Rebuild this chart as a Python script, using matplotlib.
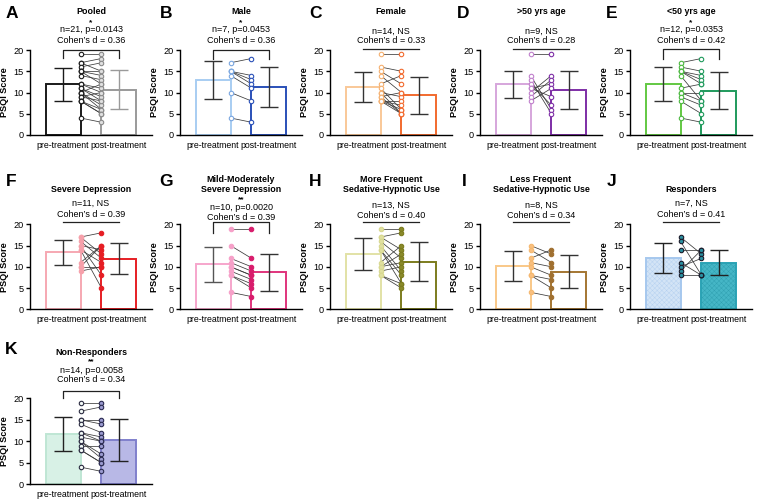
import matplotlib
matplotlib.use('Agg')
import matplotlib.pyplot as plt
import numpy as np

plt.rcParams['font.family'] = ['Liberation Sans', 'DejaVu Sans']
plt.rcParams['hatch.linewidth'] = 0.3

# ---------------- data (PSQI scores, paired pre/post) ----------------
groups = ['pre-treatment', 'post-treatment']
yticks = [0, 5, 10, 15, 20]

pooled_pre = [19, 17, 17, 16, 15, 15, 15, 14, 12, 12, 11, 11, 10, 10, 10, 9, 9, 8, 8, 8, 4]
pooled_post = [19, 18, 15, 17, 14, 15, 12, 13, 10, 11, 8, 9, 12, 7, 6, 10, 8, 6, 5, 5, 3]

male_pre = [17, 15, 15, 15, 14, 10, 4]
male_post = [18, 14, 13, 12, 11, 8, 3]

female_pre = [19, 16, 15, 14, 12, 11, 10, 10, 9, 9, 8, 8, 8, 8]
female_post = [19, 15, 12, 10, 14, 6, 9, 5, 10, 5, 8, 7, 6, 5]

old_pre = [19, 14, 13, 12, 11, 11, 10, 9, 8]
old_post = [19, 6, 5, 7, 9, 12, 14, 13, 11]

young_pre = [17, 16, 15, 15, 15, 14, 11, 10, 10, 9, 8, 4]
young_post = [18, 15, 14, 13, 12, 8, 12, 10, 8, 7, 5, 3]

severe_pre = [17, 17, 16, 15, 15, 14, 14, 11, 10, 10, 9]
severe_post = [18, 13, 12, 8, 14, 5, 11, 15, 10, 15, 10]

mild_pre = [19, 15, 12, 11, 10, 10, 9, 8, 8, 4]
mild_post = [19, 12, 10, 9, 8, 8, 7, 6, 5, 3]

morefreq_pre = [19, 17, 17, 16, 15, 14, 14, 11, 10, 10, 9, 8, 8]
morefreq_post = [19, 18, 14, 12, 9, 6, 8, 15, 13, 11, 10, 6, 5]

lessfreq_pre = [15, 14, 12, 11, 10, 8, 8, 4]
lessfreq_post = [13, 11, 14, 10, 8, 7, 5, 3]

resp_pre = [17, 16, 14, 11, 10, 9, 8]
resp_post = [13, 8, 14, 8, 12, 14, 8]

nonresp_pre = [19, 17, 15, 15, 14, 12, 12, 11, 10, 10, 9, 8, 8, 4]
nonresp_post = [19, 18, 15, 14, 12, 11, 10, 10, 7, 6, 9, 5, 5, 3]

titles = [['Pooled'], ['Male'], ['Female'], ['>50 yrs age'], ['<50 yrs age'],
          ['Severe Depression'], ['Mild-Moderately', 'Severe Depression'],
          ['More Frequent', 'Sedative-Hypnotic Use'], ['Less Frequent', 'Sedative-Hypnotic Use'],
          ['Responders'], ['Non-Responders']]
letters = ['A', 'B', 'C', 'D', 'E', 'F', 'G', 'H', 'I', 'J', 'K']
stat_texts = ['n=21, p=0.0143', 'n=7, p=0.0453', 'n=14, NS', 'n=9, NS', 'n=12, p=0.0353',
              'n=11, NS', 'n=10, p=0.0020', 'n=13, NS', 'n=8, NS', 'n=7, NS', 'n=14, p=0.0058']
stars = ['*', '*', '', '', '*', '', '**', '', '', '', '**']
cohens = ['0.36', '0.36', '0.33', '0.28', '0.42', '0.39', '0.39', '0.40', '0.34', '0.41', '0.34']

data = [(pooled_pre, pooled_post), (male_pre, male_post), (female_pre, female_post),
        (old_pre, old_post), (young_pre, young_post), (severe_pre, severe_post),
        (mild_pre, mild_post), (morefreq_pre, morefreq_post), (lessfreq_pre, lessfreq_post),
        (resp_pre, resp_post), (nonresp_pre, nonresp_post)]

# ---------------- styles ----------------
styles = [
    dict(pe='#1a1a1a', qe='#9a9a9a', pf='white', qf='white', pm='white', qm='#e0e0e0', pme='#1a1a1a', qme='#8a8a8a', ep='#1a1a1a', eq='#9a9a9a'),
    dict(pe='#a8cdf2', qe='#2a50b8', pf='white', qf='white', pm='white', qm='white', pme='#7aa6e0', qme='#2a50b8', ep='#333333', eq='#333333'),
    dict(pe='#f9c898', qe='#f26a2e', pf='white', qf='white', pm='white', qm='white', pme='#f5b070', qme='#f26a2e', ep='#333333', eq='#333333'),
    dict(pe='#d6a6dc', qe='#7e2ea6', pf='white', qf='white', pm='white', qm='white', pme='#c080cc', qme='#7e2ea6', ep='#333333', eq='#333333'),
    dict(pe='#62c842', qe='#1f9a5c', pf='white', qf='white', pm='white', qm='white', pme='#4cb840', qme='#1f9a5c', ep='#333333', eq='#333333'),
    dict(pe='#f6a8b2', qe='#e61e24', pf='white', qf='white', pm='#f6a0aa', qm='#e61e24', pme='#f6a0aa', qme='#e61e24', ep='#333333', eq='#333333'),
    dict(pe='#f6a6cc', qe='#e0347c', pf='white', qf='white', pm='#f6a0c8', qm='#d81c6c', pme='#f6a0c8', qme='#d81c6c', ep='#555555', eq='#333333'),
    dict(pe='#e2e2a6', qe='#7c7c1e', pf='white', qf='white', pm='#e0e0a0', qm='#8a8a2a', pme='#d8d890', qme='#7c7c1e', ep='#333333', eq='#333333'),
    dict(pe='#f9c888', qe='#a47632', pf='white', qf='white', pm='#f9c080', qm='#a07030', pme='#f5b870', qme='#a07030', ep='#333333', eq='#333333'),
    dict(pe='#a6c8ee', qe='#2aa2b4', pf='#d3e4f6', qf='#45b6c6', pm='#2a8fa0', qm='#2a8fa0', pme='#1a1a2a', qme='#1a1a2a', ep='#222222', eq='#222222',
         hp='#b4d0f0', hq='#2f9fb0'),
    dict(pe='#bfe6d4', qe='#8080cc', pf='#d8f1e6', qf='#b8b8e6', pm='#f4fbf8', qm='#9a9ad0', pme='#2a2a40', qme='#2a2a50', ep='#222222', eq='#222222'),
]

# layout (pixels)
W, H = 763, 500
fig = plt.figure(figsize=(W / 100, H / 100), dpi=100)
row_top = [50, 224.3, 398.3]
row_h = [85, 85, 86]
ax_w = 122
col_left = [30, 180, 330, 480, 630]
letter_pos = [(12, 13), (166, 13), (315, 13), (463, 13), (612, 13),
              (11, 181), (166, 181), (315, 181), (464, 181), (612, 182), (11, 350)]

# text offsets (px above y=20): title lines, star, n-line, cohen, bracket y, bracket drop
offs = {
    'A': dict(t=[38.5], s=27.5, n=20, c=9.5, b=0.5, drop=8.5),
    'B': dict(t=[38.5], s=27.5, n=20, c=9.5, b=0.5, drop=9),
    'C': dict(t=[38.5], s=None, n=18.5, c=9.5, b=1.2, drop=0),
    'D': dict(t=[38.5], s=None, n=18.5, c=9.5, b=1.2, drop=0),
    'E': dict(t=[38.5], s=27.5, n=20, c=9.5, b=1.5, drop=10),
    'F': dict(t=[34.3], s=None, n=21, c=10, b=2.6, drop=0),
    'G': dict(t=[44.8, 34.8], s=25, n=16.5, c=7.0, b=2.2, drop=11),
    'H': dict(t=[44.3, 34.3], s=None, n=19.3, c=8.3, b=2.6, drop=0),
    'I': dict(t=[44.3, 34.3], s=None, n=19.3, c=8.3, b=2.6, drop=0),
    'J': dict(t=[34.3], s=None, n=21, c=10, b=2.6, drop=0),
    'K': dict(t=[45.5], s=36.5, n=28, c=19, b=7.3, drop=7.3),
}

xp, xq = 0, 1
bw = 0.625
x_pt_pre = xp + bw / 2
x_pt_post = xq - bw / 2

for i, (pre, post) in enumerate(data):
    row = 0 if i < 5 else (1 if i < 10 else 2)
    col = i if i < 5 else (i - 5 if i < 10 else 0)
    top = row_top[row]
    h = row_h[row]
    left = col_left[col]
    ax = fig.add_axes([left / W, 1 - (top + h) / H, ax_w / W, h / H])
    st = styles[i]
    pre = np.array(pre, dtype=float)
    post = np.array(post, dtype=float)
    means = [pre.mean(), post.mean()]
    sds = [pre.std(ddof=1), post.std(ddof=1)]

    if 'hp' in st:
        ax.bar([xp], [means[0]], width=bw, facecolor=st['pf'], edgecolor=st['hp'], hatch='xxxxxxx', linewidth=0, zorder=1)
        ax.bar([xq], [means[1]], width=bw, facecolor=st['qf'], edgecolor=st['hq'], hatch='xxxxxxx', linewidth=0, zorder=1)
        ax.bar([xp], [means[0]], width=bw, facecolor='none', edgecolor=st['pe'], linewidth=1.4, zorder=1.5)
        ax.bar([xq], [means[1]], width=bw, facecolor='none', edgecolor=st['qe'], linewidth=1.4, zorder=1.5)
    else:
        ax.bar([xp], [means[0]], width=bw, facecolor=st['pf'], edgecolor=st['pe'], linewidth=1.4, zorder=1)
        ax.bar([xq], [means[1]], width=bw, facecolor=st['qf'], edgecolor=st['qe'], linewidth=1.4, zorder=1)

    ax.errorbar([xp], [means[0]], yerr=[sds[0]], fmt='none', ecolor=st['ep'], elinewidth=1.0, capsize=6.5, capthick=1.0, zorder=2)
    ax.errorbar([xq], [means[1]], yerr=[sds[1]], fmt='none', ecolor=st['eq'], elinewidth=1.0, capsize=6.5, capthick=1.0, zorder=2)

    for a, b in zip(pre, post):
        ax.plot([x_pt_pre, x_pt_post], [a, b], color='#3a3a3a', lw=0.55, zorder=3)
    ax.plot(np.full(len(pre), x_pt_pre), pre, 'o', ms=3.2, mfc=st['pm'], mec=st['pme'], mew=0.8, zorder=4, clip_on=False)
    ax.plot(np.full(len(post), x_pt_post), post, 'o', ms=3.2, mfc=st['qm'], mec=st['qme'], mew=0.8, zorder=4, clip_on=False)

    ax.set_xlim(-0.59, 1.59)
    ax.set_ylim(0, 20)
    ax.set_yticks(yticks)
    ax.set_xticks([xp, xq])
    ax.set_xticklabels(groups)
    ax.spines['top'].set_visible(False)
    ax.spines['right'].set_visible(False)
    ax.spines['left'].set_linewidth(1.0)
    ax.spines['bottom'].set_linewidth(1.0)
    ax.tick_params(axis='y', length=3, width=1.0, labelsize=6.6, pad=1.5)
    ax.tick_params(axis='x', length=0, labelsize=6.3, pad=4)
    ax.set_ylabel('PSQI Score', fontsize=6.6, fontweight='bold', labelpad=3)

    o = offs[letters[i]]
    ppu = h / 20.0  # px per data unit

    def yd(px):
        return 20 + px / ppu

    for k, t in enumerate(titles[i]):
        ax.text(0.5, yd(o['t'][k]), t, ha='center', va='center', fontsize=6.4, fontweight='bold', clip_on=False)
    if o['s'] is not None and stars[i]:
        ax.text(0.5, yd(o['s']), stars[i], ha='center', va='center', fontsize=6.0, fontweight='bold', clip_on=False)
    ax.text(0.5, yd(o['n']), stat_texts[i], ha='center', va='center', fontsize=6.5, clip_on=False)
    ax.text(0.5, yd(o['c']), "Cohen\u2019s d = " + cohens[i], ha='center', va='center', fontsize=6.5, clip_on=False)
    by = yd(o['b'])
    if o['drop'] > 0:
        ax.plot([xp, xp, xq, xq], [by - o['drop'] / ppu, by, by, by - o['drop'] / ppu], color='#222222', lw=0.9, clip_on=False)
    else:
        ax.plot([xp, xq], [by, by], color='#222222', lw=0.9, clip_on=False)

    lx, ly = letter_pos[i]
    fig.text(lx / W, 1 - ly / H, letters[i], ha='center', va='center', fontsize=12.5, fontweight='bold')

fig.savefig('out.png', dpi=100)
